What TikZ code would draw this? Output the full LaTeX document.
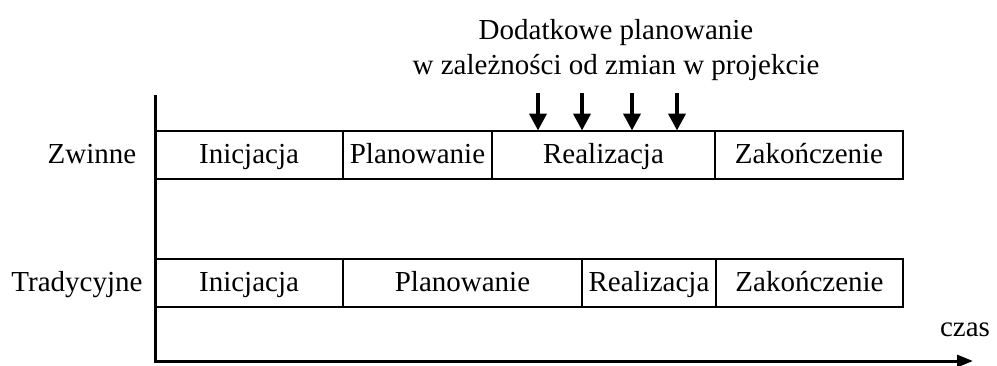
\documentclass[tikz,border=0pt]{standalone}
\usepackage{fontspec}
\setmainfont{Liberation Serif}
\usetikzlibrary{arrows.meta}
\begin{document}
\begin{tikzpicture}[x=1pt,y=-1pt,
  txt/.style={font=\fontsize{29}{34}\selectfont, inner sep=0pt, outer sep=0pt},
  phase/.style={txt, draw, line width=2pt, minimum height=48pt,
                text height=20pt, text depth=3pt},
  rowlabel/.style={txt, text height=20pt, text depth=3pt},
  axis/.style={line width=3pt, -{Triangle[length=16pt,width=12pt]}},
  change/.style={line width=4pt, -{Triangle[length=17pt,width=17pt]}}]
\useasboundingbox (0,0) rectangle (997,365);

% time axes
\coordinate (ytop) at (155,95);
\coordinate (origin) at (155,361);
\coordinate (xend) at (973,361);
\draw[axis] (ytop) -- (origin) -- (xend);
\node[txt, anchor=base] (czas) at (965,336) {czas};

% agile row
\node[rowlabel] (zw) at (92,154.5) {Zwinne};
\node[phase, minimum width=188pt] (z1) at (249,154.5) {Inicjacja};
\node[phase, minimum width=149pt] (z2) at (417.5,154.5) {Planowanie};
\node[phase, minimum width=223pt] (z3) at (603.5,154.5) {Realizacja};
\node[phase, minimum width=188pt] (z4) at (809,154.5) {Zakończenie};

% traditional row
\node[rowlabel] (tr) at (77,283) {Tradycyjne};
\node[phase, minimum width=188pt] (t1) at (249,283) {Inicjacja};
\node[phase, minimum width=239pt] (t2) at (462.5,283) {Planowanie};
\node[phase, minimum width=134pt] (t3) at (649,283) {Realizacja};
\node[phase, minimum width=187pt] (t4) at (809.5,283) {Zakończenie};

% re-planning note with its arrows
\node[txt, anchor=base] (note1) at (616,39) {Dodatkowe planowanie};
\node[txt, anchor=base] (note2) at (616,74) {w zależności od zmian w projekcie};
\foreach \i/\x in {1/538,2/582,3/632,4/677} {
  \coordinate (c\i) at (\x,93);
  \draw[change] (c\i) -- (c\i |- z3.north);
}
\end{tikzpicture}
\end{document}
